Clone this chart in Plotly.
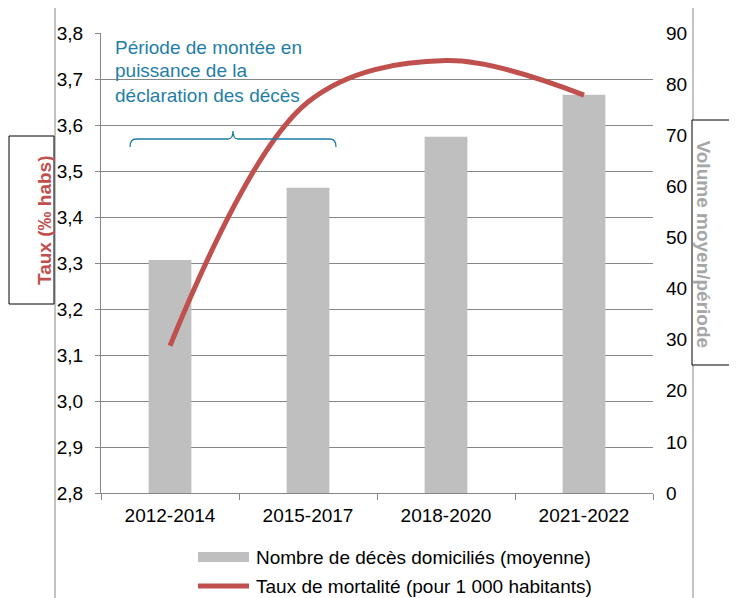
import plotly.graph_objects as go

periods = ["2012-2014", "2015-2017", "2018-2020", "2021-2022"]
deces_moyens = [45.6, 59.7, 69.7, 77.9]
taux_mortalite = [3.12, 3.65, 3.74, 3.665]

left_ticks = [2.8, 2.9, 3.0, 3.1, 3.2, 3.3, 3.4, 3.5, 3.6, 3.7, 3.8]
left_labels = [f"{v:.1f}".replace(".", ",") for v in left_ticks]
right_ticks = [0, 10, 20, 30, 40, 50, 60, 70, 80, 90]

OFF = 8  # browser default body margin
W, H = 737 - OFF, 598 - OFF
# plot area in page pixels
L, R, T, B = 101, 653, 33, 493
FONT = "Liberation Sans, Arial, sans-serif"
FS = 19
TEAL = "#1f7ea6"
RED = "#c0504d"
GREY = "#bfbfbf"
AX = "#868686"


def X(px):
    return (px - L) / (R - L)


def Y(py):
    return (B - py) / (B - T)


fig = go.Figure()
fig.add_trace(go.Bar(
    x=periods, y=deces_moyens, yaxis="y", width=0.31,
    marker=dict(color=GREY, line=dict(width=0)),
    name="Nombre de décès domiciliés (moyenne)", showlegend=False,
))
fig.add_trace(go.Scatter(
    x=periods, y=taux_mortalite, yaxis="y2", mode="lines",
    line=dict(color=RED, width=5, shape="spline", smoothing=1),
    name="Taux de mortalité (pour 1 000 habitants)", showlegend=False,
))

shapes = []
annotations = []

# outer frame
shapes.append(dict(type="rect", xref="paper", yref="paper",
                   x0=X(55), x1=X(693), y0=Y(650), y1=Y(4),
                   line=dict(color=AX, width=1), fillcolor="rgba(0,0,0,0)", layer="below"))
# cropped neighbour box on the left edge
shapes.append(dict(type="rect", xref="paper", yref="paper",
                   x0=X(-20), x1=X(7), y0=Y(650), y1=Y(366),
                   line=dict(color="#c8c8c8", width=1), fillcolor="rgba(0,0,0,0)", layer="below"))

# axis title boxes
shapes.append(dict(type="rect", xref="paper", yref="paper",
                   x0=X(9), x1=X(54), y0=Y(304), y1=Y(136),
                   line=dict(color="black", width=1), fillcolor="white"))
annotations.append(dict(xref="paper", yref="paper", x=X(31.5), y=Y(220),
                        text="<b>Taux (‰ habs)</b>", textangle=-90, showarrow=False,
                        font=dict(family=FONT, size=FS, color=RED)))
shapes.append(dict(type="rect", xref="paper", yref="paper",
                   x0=X(692), x1=X(760), y0=Y(365), y1=Y(120),
                   line=dict(color="black", width=1), fillcolor="white"))
annotations.append(dict(xref="paper", yref="paper", x=X(716), y=Y(244),
                        text="<b>Volume moyen/période</b>", textangle=90, showarrow=False,
                        font=dict(family=FONT, size=FS, color="#a6a6a6")))

# annotation text
for i, line in enumerate(["Période de montée en", "puissance de la", "déclaration des décès"]):
    annotations.append(dict(xref="paper", yref="paper", x=X(113), y=Y(47 + 24 * i),
                            xanchor="left", yanchor="middle", text=line, showarrow=False,
                            font=dict(family=FONT, size=FS, color=TEAL)))

# brace
def P(px, py):
    return f"{X(px):.5f},{Y(py):.5f}"

brace = (f"M{P(130,147)} Q{P(130,139)} {P(136,139)} L{P(228,139)} "
         f"Q{P(233,139)} {P(233,131)} Q{P(233,139)} {P(238,139)} "
         f"L{P(330,139)} Q{P(336,139)} {P(336,147)}")
shapes.append(dict(type="path", xref="paper", yref="paper", path=brace,
                   line=dict(color=TEAL, width=1.3)))

# manual legend
shapes.append(dict(type="rect", xref="paper", yref="paper",
                   x0=X(198), x1=X(249), y0=Y(562), y1=Y(552),
                   line=dict(width=0), fillcolor=GREY))
shapes.append(dict(type="line", xref="paper", yref="paper",
                   x0=X(198), x1=X(249), y0=Y(586), y1=Y(586),
                   line=dict(color=RED, width=5)))
annotations.append(dict(xref="paper", yref="paper", x=X(254), y=Y(557),
                        xanchor="left", yanchor="middle", showarrow=False,
                        text="Nombre de décès domiciliés (moyenne)",
                        font=dict(family=FONT, size=FS, color="black")))
annotations.append(dict(xref="paper", yref="paper", x=X(254), y=Y(586),
                        xanchor="left", yanchor="middle", showarrow=False,
                        text="Taux de mortalité (pour 1 000 habitants)",
                        font=dict(family=FONT, size=FS, color="black")))

fig.update_layout(
    width=W, height=H,
    margin=dict(l=L - OFF, r=W - (R - OFF), t=T - OFF, b=H - (B - OFF)),
    paper_bgcolor="white", plot_bgcolor="white",
    font=dict(family=FONT, size=FS, color="black"),
    showlegend=False,
    xaxis=dict(type="category", categoryorder="array", categoryarray=periods,
               showline=True, linecolor=AX, linewidth=1,
               ticks="outside", tickson="boundaries", ticklen=6, tickcolor=AX,
               showgrid=False, ticklabelstandoff=5,
               tickfont=dict(family=FONT, size=FS, color="black")),
    yaxis=dict(side="right", range=[0, 90], tickvals=right_ticks,
               showgrid=False, showline=False, ticks="", zeroline=False,
               ticklabelstandoff=12,
               tickfont=dict(family=FONT, size=FS, color="black")),
    yaxis2=dict(side="left", overlaying="y", range=[2.8, 3.8],
                tickvals=left_ticks, ticktext=left_labels,
                showgrid=True, gridcolor=AX, gridwidth=1,
                showline=True, linecolor=AX, linewidth=1,
                ticks="outside", ticklen=5, tickcolor=AX, zeroline=False,
                ticklabelstandoff=8,
                tickfont=dict(family=FONT, size=FS, color="black")),
    shapes=shapes, annotations=annotations,
)

fig.write_html("out.html")
